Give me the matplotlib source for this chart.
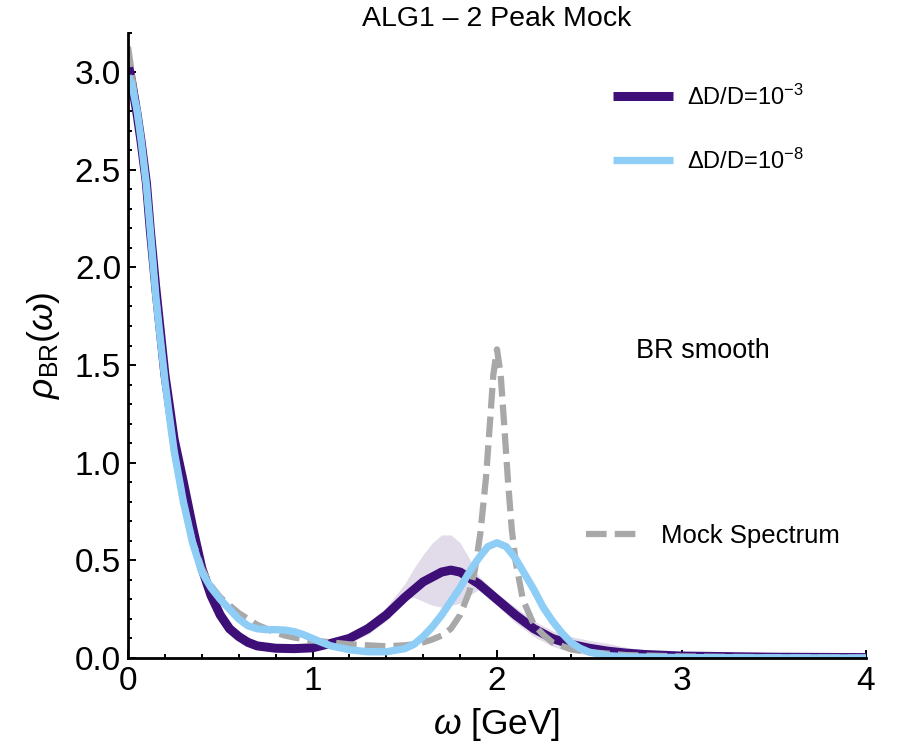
import matplotlib
matplotlib.use("Agg")
import matplotlib.pyplot as plt
from matplotlib.ticker import MultipleLocator, FormatStrFormatter

plt.rcParams["font.family"] = ["Liberation Sans", "DejaVu Sans"]
plt.rcParams["mathtext.fontset"] = "custom"
plt.rcParams["mathtext.rm"] = "Liberation Sans"
plt.rcParams["mathtext.it"] = "Liberation Sans:italic"
plt.rcParams["mathtext.bf"] = "Liberation Sans:bold"

PURPLE = "#3f0f78"
BLUE = "#8ecdf6"
GRAY = "#a8a8a8"

# BR smooth reconstruction, Delta D / D = 1e-3
omega_3 = [0.0, 0.02, 0.05, 0.07, 0.1, 0.12, 0.15, 0.17, 0.2, 0.22, 0.25, 0.3, 0.35, 0.4, 0.45,
           0.5, 0.55, 0.6, 0.65, 0.7, 0.8, 0.9, 1.0, 1.1, 1.2, 1.3, 1.4, 1.5, 1.6, 1.7, 1.75,
           1.8, 1.9, 2.0, 2.1, 2.2, 2.3, 2.4, 2.5, 2.6, 2.7, 2.8, 3.0, 3.5, 4.0]
rho_3 = [3.05, 2.95, 2.78, 2.65, 2.43, 2.20, 1.90, 1.72, 1.45, 1.32, 1.12, 0.90, 0.67, 0.46, 0.32,
         0.22, 0.15, 0.11, 0.08, 0.062, 0.05, 0.048, 0.052, 0.075, 0.10, 0.15, 0.22, 0.31, 0.39, 0.44, 0.45,
         0.44, 0.38, 0.30, 0.22, 0.15, 0.10, 0.07, 0.05, 0.035, 0.025, 0.018, 0.01, 0.004, 0.002]

# error band of the 1e-3 reconstruction
omega_band = [0.0, 0.1, 0.2, 0.3, 0.4, 0.5, 0.6, 0.7, 0.8, 0.9, 1.0, 1.1, 1.2, 1.3, 1.4,
              1.5, 1.55, 1.6, 1.65, 1.7, 1.75, 1.8, 1.85, 1.9, 2.0, 2.1, 2.2, 2.3, 2.4,
              2.5, 2.6, 2.7, 2.8, 3.0, 3.5, 4.0]
band_lo = [3.00, 2.38, 1.40, 0.86, 0.42, 0.19, 0.09, 0.045, 0.035, 0.035, 0.04, 0.055, 0.08, 0.12, 0.19,
           0.30, 0.31, 0.29, 0.27, 0.26, 0.27, 0.28, 0.32, 0.35, 0.27, 0.18, 0.11, 0.06, 0.03,
           0.015, 0.01, 0.005, 0.003, 0.0, 0.0, 0.0]
band_hi = [3.10, 2.48, 1.50, 0.95, 0.50, 0.25, 0.13, 0.08, 0.065, 0.065, 0.075, 0.10, 0.13, 0.18, 0.26,
           0.38, 0.46, 0.53, 0.59, 0.63, 0.63, 0.59, 0.51, 0.42, 0.33, 0.26, 0.19, 0.14, 0.11,
           0.09, 0.075, 0.055, 0.04, 0.02, 0.006, 0.002]

# BR smooth reconstruction, Delta D / D = 1e-8
omega_8 = [0.0, 0.02, 0.05, 0.07, 0.1, 0.12, 0.15, 0.17, 0.2, 0.22, 0.25, 0.3, 0.35, 0.4, 0.45,
           0.5, 0.55, 0.6, 0.65, 0.7, 0.75, 0.8, 0.85, 0.9, 0.95, 1.0, 1.05, 1.1, 1.2, 1.3,
           1.4, 1.5, 1.55, 1.6, 1.65, 1.7, 1.75, 1.8, 1.85, 1.9, 1.95, 2.0, 2.05, 2.1, 2.15,
           2.2, 2.25, 2.3, 2.35, 2.4, 2.45, 2.5, 2.6, 2.7, 3.0, 4.0]
rho_8 = [2.98, 2.94, 2.80, 2.66, 2.42, 2.20, 1.86, 1.68, 1.42, 1.27, 1.06, 0.80, 0.59, 0.44, 0.36,
         0.30, 0.25, 0.20, 0.165, 0.15, 0.145, 0.145, 0.143, 0.135, 0.12, 0.10, 0.08, 0.062, 0.042, 0.032,
         0.032, 0.048, 0.07, 0.11, 0.16, 0.22, 0.29, 0.36, 0.44, 0.51, 0.57, 0.59, 0.57, 0.51, 0.43,
         0.35, 0.26, 0.19, 0.13, 0.08, 0.05, 0.03, 0.012, 0.006, 0.002, 0.0]

# input mock spectrum
omega_mock = [0.0, 0.02, 0.05, 0.07, 0.1, 0.12, 0.15, 0.17, 0.2, 0.22, 0.25, 0.3, 0.35, 0.4,
              0.45, 0.5, 0.55, 0.6, 0.65, 0.7, 0.75, 0.8, 0.85, 0.9, 1.0, 1.1, 1.2, 1.3, 1.4,
              1.5, 1.55, 1.6, 1.65, 1.7, 1.75, 1.8, 1.85, 1.88, 1.91, 1.94, 1.96, 1.98, 2.0,
              2.02, 2.04, 2.06, 2.08, 2.1, 2.14, 2.2, 2.25, 2.3, 2.4, 2.5, 2.7, 3.0, 3.5, 4.0]
rho_mock = [3.13, 3.00, 2.78, 2.66, 2.40, 2.20, 1.88, 1.68, 1.42, 1.27, 1.06, 0.80, 0.60, 0.46,
            0.37, 0.31, 0.27, 0.23, 0.20, 0.17, 0.15, 0.13, 0.115, 0.105, 0.09, 0.08, 0.07, 0.065, 0.06,
            0.065, 0.07, 0.08, 0.095, 0.115, 0.15, 0.22, 0.34, 0.45, 0.64, 0.92, 1.18, 1.45, 1.58,
            1.45, 1.18, 0.90, 0.66, 0.50, 0.30, 0.17, 0.12, 0.08, 0.045, 0.03, 0.015, 0.008, 0.004, 0.002]

fig = plt.figure(figsize=(9, 7.5), dpi=100)
ax = fig.add_axes([128 / 900, 1 - 658 / 750, 738 / 900, 625 / 750])

ax.fill_between(omega_band, band_lo, band_hi, color=PURPLE, alpha=0.15, lw=0)
l3, = ax.plot(omega_3, rho_3, color=PURPLE, lw=6.5, solid_joinstyle="round",
              solid_capstyle="butt", label=r"ΔD/D=10$^{-3}$")
lm, = ax.plot(omega_mock, rho_mock, color=GRAY, lw=4.5, dashes=(3.3, 1.3),
              label="Mock Spectrum")
l8, = ax.plot(omega_8, rho_8, color=BLUE, lw=5.3, solid_joinstyle="round",
              solid_capstyle="butt", label=r"ΔD/D=10$^{-8}$")

ax.set_xlim(0, 4)
ax.set_ylim(0, 3.2)
ax.xaxis.set_major_locator(MultipleLocator(1))
ax.xaxis.set_minor_locator(MultipleLocator(0.2))
ax.yaxis.set_major_locator(MultipleLocator(0.5))
ax.yaxis.set_minor_locator(MultipleLocator(0.1))
ax.xaxis.set_major_formatter(FormatStrFormatter("%d"))
ax.yaxis.set_major_formatter(FormatStrFormatter("%.1f"))
ax.tick_params(which="both", direction="in", width=1.4, labelsize=24)
ax.tick_params(which="major", length=5.5)
ax.tick_params(which="minor", length=3)
ax.tick_params(axis="y", pad=5)
ax.tick_params(axis="x", pad=6)
for side in ("top", "right"):
    ax.spines[side].set_visible(False)
for side in ("left", "bottom"):
    ax.spines[side].set_linewidth(2.0)

ax.set_xlabel(r"$\omega$ [GeV]", fontsize=25.5, labelpad=6)
ax.set_ylabel(r"$\rho_{\mathrm{BR}}(\omega)$", fontsize=25.5, labelpad=9)
ax.set_title("ALG1 – 2 Peak Mock", fontsize=20.5, pad=5)

leg1 = ax.legend(handles=[l3, l8], loc="upper left", bbox_to_anchor=(0.657, 0.918),
                 frameon=False, fontsize=17, handlelength=2.55, handletextpad=0.6,
                 labelspacing=1.65, borderpad=0, borderaxespad=0)
ax.add_artist(leg1)
ax.legend(handles=[lm], loc="center left", bbox_to_anchor=(0.621, 0.195),
          frameon=False, fontsize=18.5, handlelength=2.15, handletextpad=0.75,
          borderpad=0, borderaxespad=0)

ax.text(0.779, 0.491, "BR smooth", transform=ax.transAxes, fontsize=19.5,
        ha="center", va="center")

fig.savefig("out.png", dpi=100)
